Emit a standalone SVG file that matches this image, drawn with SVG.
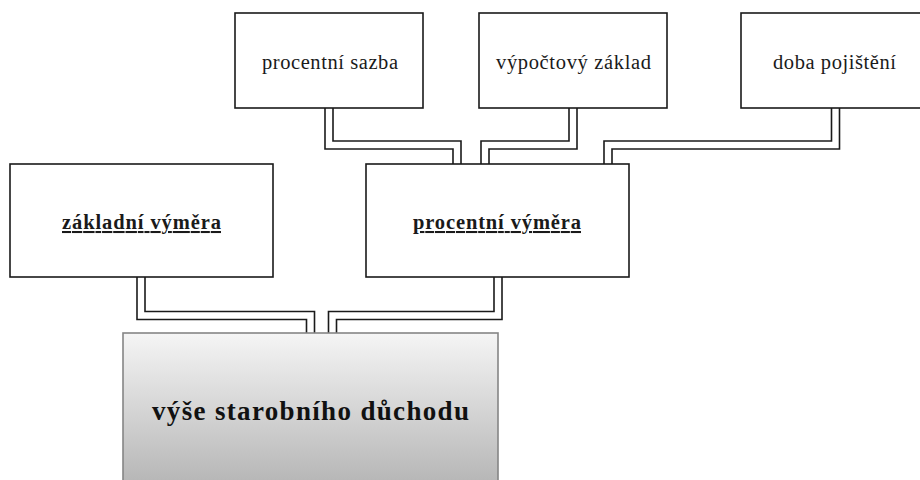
<svg xmlns="http://www.w3.org/2000/svg" width="920" height="480" viewBox="0 0 920 480">
<defs>
<linearGradient id="g" x1="0" y1="0" x2="0" y2="1">
<stop offset="0" stop-color="#f5f5f5"/>
<stop offset="1" stop-color="#b2b2b2"/>
</linearGradient>
<style>
.box{fill:#fff;stroke:#1a1a1a;stroke-width:1.6}
.t{font-family:"Liberation Serif","Times New Roman",serif;font-size:20.5px;fill:#1a1a1a;text-anchor:middle}
.b{font-weight:bold;text-decoration:underline;font-size:20.5px}
.w1{fill:none;stroke:#1a1a1a;stroke-width:9.6}
.w2{fill:none;stroke:#fff;stroke-width:6.4}
</style>
</defs>
<rect width="920" height="480" fill="#fff"/>
<g id="connectors">
<g class="w1">
<path d="M329 108V145H457V164"/>
<path d="M573 108V145H485V164"/>
<path d="M835.5 108V145H608V164"/>
<path d="M141 277V315.5H310.5V333"/>
<path d="M498 277V315.5H332.5V333"/>
</g>
<g class="w2">
<path d="M329 107V145H457V164"/>
<path d="M573 107V145H485V164"/>
<path d="M835.5 107V145H608V164"/>
<path d="M141 276V315.5H310.5V333"/>
<path d="M498 276V315.5H332.5V333"/>
</g>
</g>
<g id="procentni-sazba">
<rect class="box" x="235" y="13" width="188" height="95"/>
<text class="t" x="330" y="69" textLength="136" lengthAdjust="spacing">procentní sazba</text>
</g>
<g id="vypoctovy-zaklad">
<rect class="box" x="479" y="13" width="188" height="95"/>
<text class="t" x="573.5" y="69" textLength="155" lengthAdjust="spacing">výpočtový základ</text>
</g>
<g id="doba-pojisteni">
<rect class="box" x="741" y="13" width="186" height="95"/>
<text class="t" x="834.5" y="69" textLength="123" lengthAdjust="spacing">doba pojištění</text>
</g>
<g id="zakladni-vymera">
<rect class="box" x="10" y="164" width="263" height="113"/>
<text class="t b" x="141.5" y="229" textLength="159" lengthAdjust="spacing">základní výměra</text>
</g>
<g id="procentni-vymera">
<rect class="box" x="366" y="164" width="263" height="113"/>
<text class="t b" x="497" y="229" textLength="168" lengthAdjust="spacing">procentní výměra</text>
</g>
<g id="vyse-duchodu">
<rect x="123" y="333" width="375" height="160" fill="url(#g)" stroke="#858585" stroke-width="1.6"/>
<text x="310.5" y="420" font-family="'Liberation Serif','Times New Roman',serif" font-size="27" font-weight="bold" fill="#111" text-anchor="middle" textLength="317" lengthAdjust="spacing">výše starobního důchodu</text>
</g>
</svg>
